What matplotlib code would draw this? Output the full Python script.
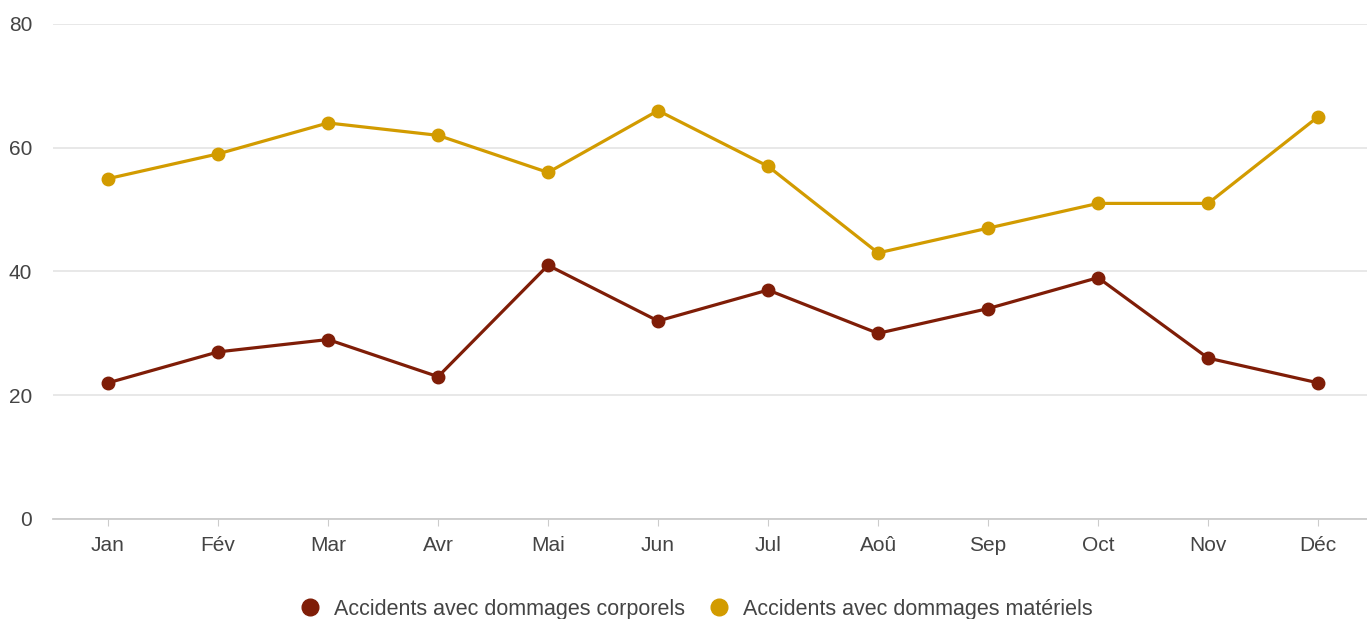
import matplotlib.pyplot as plt
from matplotlib.lines import Line2D

months = ['Jan', 'Fév', 'Mar', 'Avr', 'Mai', 'Jun', 'Jul', 'Aoû', 'Sep', 'Oct', 'Nov', 'Déc']
corporels = [22, 27, 29, 23, 41, 32, 37, 30, 34, 39, 26, 22]
materiels = [55, 59, 64, 62, 56, 66, 57, 43, 47, 51, 51, 65]
yticks = [0, 20, 40, 60, 80]

red = '#7f1d07'
gold = '#d29b00'

plt.rcParams['font.family'] = ['Liberation Sans', 'DejaVu Sans']

fig = plt.figure(figsize=(13.67, 6.19), dpi=100)
ax = fig.add_axes([0.0388, 0.1616, 0.9612, 0.7997])

x = range(len(months))
ax.plot(x, corporels, color=red, lw=2.3, marker='o', ms=9, zorder=3)
ax.plot(x, materiels, color=gold, lw=2.3, marker='o', ms=9, zorder=3)

ax.set_ylim(0, 80)
ax.set_xlim(-0.5, 11.445)
ax.set_yticks(yticks)
ax.set_xticks(list(x))
ax.set_xticklabels(months)
ax.grid(axis='y', color='#e6e6e6', lw=1.3)
ax.set_axisbelow(True)
for s in ['top', 'right', 'left']:
    ax.spines[s].set_visible(False)
ax.spines['bottom'].set_color('#cccccc')
ax.spines['bottom'].set_linewidth(1.3)
ax.tick_params(axis='y', length=0, pad=15, labelsize=15, labelcolor='#444444')
ax.tick_params(axis='x', length=5, color='#cccccc', pad=7, labelsize=15, labelcolor='#444444')

handles = [Line2D([], [], ls='none', marker='o', ms=12, color=red),
           Line2D([], [], ls='none', marker='o', ms=12, color=gold)]
fig.legend(handles, ['Accidents avec dommages corporels', 'Accidents avec dommages matériels'],
           loc='center', bbox_to_anchor=(0.505, 0.016), ncol=2, frameon=False,
           fontsize=15.5, labelcolor='#444444', handletextpad=0.1, columnspacing=0.6)

fig.savefig('out.png', dpi=100)
